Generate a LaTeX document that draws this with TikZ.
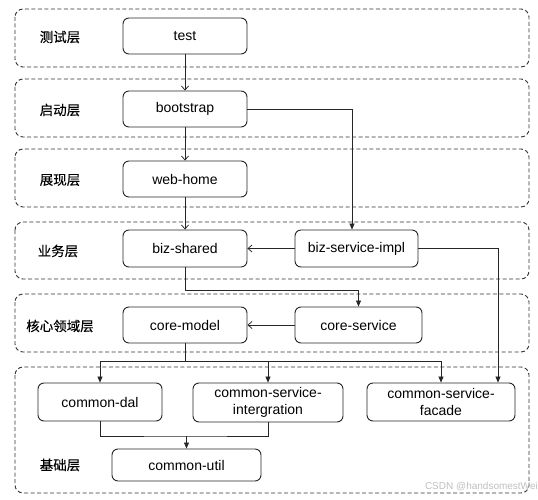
\documentclass[tikz,border=0pt]{standalone}
\usepackage{fontspec}
\setmainfont{Liberation Sans}
\newfontfamily\cjk[FakeBold=0.2]{Noto Sans CJK SC}
\usetikzlibrary{arrows.meta}
\begin{document}
\begin{tikzpicture}[x=1pt,y=-1pt,
  layer/.style={draw=black!80, dash pattern=on 4pt off 2.5pt, rounded corners=8pt, line width=0.9pt},
  mod/.style={draw=black!85, rounded corners=6pt, line width=0.9pt, font=\fontsize{14}{16.5}\selectfont, align=center, inner sep=0pt},
  lab/.style={font=\cjk\fontsize{13.5}{16}\selectfont},
  ln/.style={draw=black!85, line width=0.75pt},
  oarr/.style={ln, -{Straight Barb[length=4pt,width=7pt]}},
  farr/.style={ln, -{Triangle[length=6pt,width=5pt]}}]
\useasboundingbox (0,0) rectangle (538,500);
% layers
\draw[layer] (15,9) rectangle (529,67);
\draw[layer] (15,79) rectangle (529,137);
\draw[layer] (15,149) rectangle (529,207);
\draw[layer] (15,222) rectangle (529,279);
\draw[layer] (15,294) rectangle (529,352);
\draw[layer] (15,367) rectangle (529,493);
% layer labels
\node[lab] (l1) at (60,37) {测试层};
\node[lab] (l2) at (60,110) {启动层};
\node[lab] (l3) at (60,180) {展现层};
\node[lab] (l4) at (58,251) {业务层};
\node[lab] (l5) at (60,326) {核心领域层};
\node[lab] (l6) at (60,465) {基础层};
% modules
\node[mod, minimum width=124pt, minimum height=36pt] (test) at (185,36) {test};
\node[mod, minimum width=124pt, minimum height=36pt] (boot) at (185,109) {bootstrap};
\node[mod, minimum width=124pt, minimum height=36pt] (web) at (185,179) {web-home};
\node[mod, minimum width=124pt, minimum height=37pt] (bs) at (185,248.5) {biz-shared};
\node[mod, minimum width=123pt, minimum height=37pt] (bsi) at (356.5,248.5) {biz-service-impl};
\node[mod, minimum width=124pt, minimum height=36pt] (cm) at (185,325) {core-model};
\node[mod, minimum width=127pt, minimum height=36pt] (cs) at (358.5,325) {core-service};
\node[mod, minimum width=124pt, minimum height=38pt] (dal) at (100,402) {common-dal};
\node[mod, minimum width=150pt, minimum height=39pt] (csi) at (268,402.5) {common-service-\\intergration};
\node[mod, minimum width=148pt, minimum height=38pt] (fac) at (441,402) {common-service-\\facade};
\node[mod, minimum width=149pt, minimum height=32pt] (util) at (186.5,465) {common-util};
% connectors
\draw[oarr] (test) -- (boot);
\draw[oarr] (boot) -- (web);
\draw[oarr] (web) -- (bs);
\draw[farr] (boot.east) -| ([xshift=-4.5pt]bsi.north);
\draw[oarr] (bsi) -- (bs);
\draw[farr] (bsi.east) -| ([xshift=57pt]fac.north);
\draw[farr] (bs.south) -- ++(0,23) -| (cs.north);
\draw[oarr] (cs) -- (cm);
\coordinate (bus) at (cm.south |- 0,361);
\draw[ln] (cm.south) -- (bus);
\draw[farr] (bus) -| (dal.north);
\draw[farr] (bus) -| (csi.north);
\draw[farr] (bus) -| (fac.north);
\coordinate (jn) at (util.north |- 0,436);
\draw[ln] (dal.south) |- (jn) -| (csi.south);
\draw[farr] (jn) -- (util.north);
% watermark
\node[font=\fontsize{10}{12}\selectfont, text=black!25, anchor=east, inner sep=0pt] (wm) at (538,487) {CSDN @handsomestWei};
\end{tikzpicture}
\end{document}
